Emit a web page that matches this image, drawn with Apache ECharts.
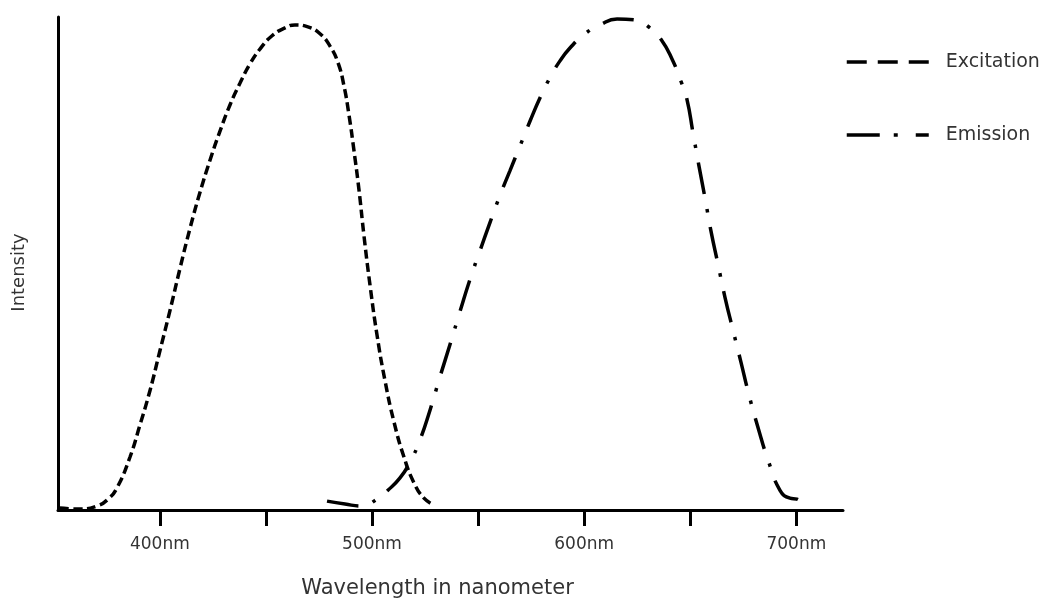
<!DOCTYPE html>
<html>
<head>
<meta charset="utf-8">
<title>Excitation and Emission Spectra</title>
<script src="https://cdn.jsdelivr.net/npm/echarts@6/dist/echarts.min.js"></script>
<style>
  html, body { margin: 0; padding: 0; background: #fff; }
  #chart { width: 1057px; height: 600px; }
</style>
</head>
<body>
<div id="chart"></div>
<script>
// Excitation spectrum: wavelength (nm) and relative intensity (%)
const excitationNm = [352.9, 362.4, 370.4, 375.6, 379.8, 385.9, 390.6, 395.4, 400.1, 404.8,
  409.5, 414.2, 418.9, 423.6, 428.4, 433.1, 437.8, 442.5, 447.2, 452.9, 459.0, 463.7,
  469.8, 475.5, 480.2, 484.0, 486.8, 489.2, 491.5, 493.9, 496.2, 499.1, 502.4, 506.1,
  510.4, 515.1, 519.8, 524.5, 529.3];
const excitationIntensity = [0.4, 0.2, 0.8, 2.2, 4.5, 10.7, 17.2, 24.3, 32.4, 40.5,
  49.0, 57.1, 64.4, 70.9, 76.9, 82.2, 86.6, 90.5, 93.5, 96.2, 97.8, 98.4,
  98.0, 96.6, 94.1, 90.7, 86.0, 80.0, 72.9, 64.8, 55.7, 45.5, 35.4, 26.3,
  17.8, 10.7, 5.5, 2.4, 1.0];

// Emission spectrum: wavelength (nm) and relative intensity (%)
const emissionNm = [478.8, 487.3, 495.3, 502.4, 507.5, 513.2, 517.9, 522.6, 527.3, 532.1,
  536.8, 541.5, 546.2, 550.9, 555.6, 560.3, 565.0, 569.8, 574.5, 579.2, 583.9, 588.6,
  593.3, 600.4, 607.5, 615.5, 624.0, 631.0, 636.2, 641.4, 645.6, 648.5, 651.3, 654.1,
  657.0, 659.8, 663.1, 666.4, 670.2, 673.9, 677.7, 681.9, 686.7, 692.3, 697.0, 700.3, 703.1];
const emissionIntensity = [1.8, 1.2, 0.8, 2.2, 4.0, 6.5, 9.7, 14.2, 20.2, 27.1,
  33.6, 40.3, 46.8, 52.6, 58.3, 63.8, 68.8, 73.9, 78.9, 83.6, 87.7, 91.1,
  93.7, 96.6, 98.4, 99.6, 99.4, 97.8, 95.5, 91.5, 87.0, 83.2, 76.5, 69.8,
  63.2, 56.5, 49.8, 43.1, 36.4, 30.0, 23.3, 16.8, 10.1, 4.0, 2.4, 2.2, 1.2];

// Axis ticks and labelled wavelengths
const tickNm = [400, 450, 500, 550, 600, 650, 700];
const labelNm = [400, 500, 600, 700];

const pairs = (xs, ys) => xs.map((x, i) => [x, ys[i]]);

const FONT = 'DejaVu Sans';
const TEXT = '#333';
const HIDDEN_MARKER = { color: 'rgba(0,0,0,0)', borderWidth: 0, opacity: 0 };

const chart = echarts.init(document.getElementById('chart'), null, { renderer: 'canvas' });

chart.setOption({
  animation: false,
  backgroundColor: '#fff',
  grid: { left: 58, right: 214, top: 17, bottom: 90, containLabel: false, outerBoundsMode: 'none' },
  legend: {
    orient: 'vertical',
    left: 845,
    top: 52,
    padding: 0,
    itemWidth: 82,
    itemHeight: 20,
    itemGap: 53,
    selectedMode: false,
    textStyle: { fontFamily: FONT, fontSize: 19, color: TEXT, lineHeight: 20, padding: [0, 0, 0, 12] },
    data: [
      { name: 'Excitation', itemStyle: HIDDEN_MARKER, lineStyle: { type: [20, 11], width: 3.5, color: '#000' } },
      { name: 'Emission', itemStyle: HIDDEN_MARKER, lineStyle: { type: [33, 14, 4, 18], width: 3.5, color: '#000' } }
    ]
  },
  xAxis: {
    type: 'value',
    min: 352,
    max: 722,
    name: 'Wavelength in nanometer',
    nameLocation: 'middle',
    nameGap: 68,
    nameTextStyle: { fontFamily: FONT, fontSize: 21, color: TEXT, padding: [0, 26, 0, 0] },
    axisLine: { show: true, onZero: false, lineStyle: { color: '#000', width: 3 } },
    axisTick: { show: true, customValues: tickNm, length: 16, lineStyle: { color: '#000', width: 3 } },
    axisLabel: {
      show: true,
      customValues: labelNm,
      margin: 26,
      fontFamily: FONT,
      fontSize: 17,
      color: TEXT,
      formatter: v => v + 'nm'
    },
    splitLine: { show: false }
  },
  yAxis: {
    type: 'value',
    min: 0,
    max: 100,
    name: 'Intensity',
    nameLocation: 'middle',
    nameGap: 30,
    nameTextStyle: { fontFamily: FONT, fontSize: 18, color: TEXT, padding: [0, 18, 0, 0] },
    axisLine: { show: true, onZero: false, lineStyle: { color: '#000', width: 3 } },
    axisTick: { show: false },
    axisLabel: { show: false },
    splitLine: { show: false }
  },
  series: [
    {
      name: 'Excitation',
      type: 'line',
      smooth: 0.5,
      symbol: 'none',
      itemStyle: { color: '#000' },
      data: pairs(excitationNm, excitationIntensity),
      lineStyle: { color: '#000', width: 3.5, type: [9, 4.5] }
    },
    {
      name: 'Emission',
      type: 'line',
      smooth: 0.5,
      symbol: 'none',
      itemStyle: { color: '#000' },
      data: pairs(emissionNm, emissionIntensity),
      lineStyle: { color: '#000', width: 3.5, type: [32, 15, 3.5, 15] }
    }
  ]
});
</script>
</body>
</html>
